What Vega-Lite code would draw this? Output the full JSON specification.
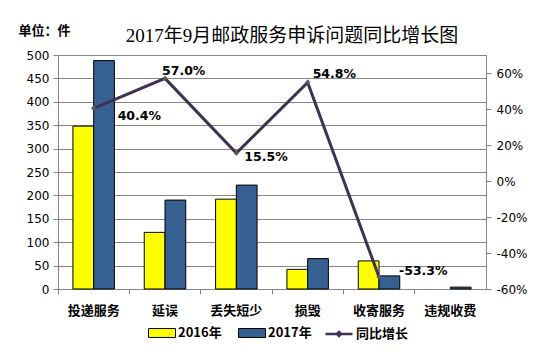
{
  "$schema": "https://vega.github.io/schema/vega-lite/v6.json",
  "autosize": {"type": "none"},
  "padding": {"left": 58, "top": 55, "right": 73, "bottom": 63},
  "width": 428,
  "height": 234,
  "background": "white",
  "title": {
    "text": "2017年9月邮政服务申诉问题同比增长图",
    "font": "Liberation Serif, Noto Sans CJK SC",
    "fontSize": 19,
    "fontWeight": "normal",
    "color": "black",
    "anchor": "middle",
    "frame": "group",
    "dx": 20,
    "offset": -22
  },
  "datasets": {
    "bars": [
      {"category": "投递服务", "year": "2016年", "value": 348},
      {"category": "投递服务", "year": "2017年", "value": 488},
      {"category": "延误", "year": "2016年", "value": 121},
      {"category": "延误", "year": "2017年", "value": 190},
      {"category": "丢失短少", "year": "2016年", "value": 192},
      {"category": "丢失短少", "year": "2017年", "value": 222},
      {"category": "损毁", "year": "2016年", "value": 42},
      {"category": "损毁", "year": "2017年", "value": 65},
      {"category": "收寄服务", "year": "2016年", "value": 60},
      {"category": "收寄服务", "year": "2017年", "value": 28},
      {"category": "违规收费", "year": "2017年", "value": 4}
    ],
    "growth": [
      {"category": "投递服务", "growth": 0.404},
      {"category": "延误", "growth": 0.570},
      {"category": "丢失短少", "growth": 0.155},
      {"category": "损毁", "growth": 0.548},
      {"category": "收寄服务", "growth": -0.533}
    ]
  },
  "config": {
    "locale": {"number": {"decimal": ".", "thousands": ",", "grouping": [3], "currency": ["$", ""], "minus": "-"}},
    "view": {"stroke": "#868686", "strokeWidth": 1},
    "axis": {
      "domainColor": "#868686",
      "tickColor": "#868686",
      "gridColor": "#868686",
      "labelColor": "black",
      "labelFont": "DejaVu Sans",
      "labelFontSize": 12,
      "tickSize": 5
    },
    "legend": {
      "labelFont": "Noto Sans CJK SC",
      "labelFontWeight": "bold",
      "labelFontSize": 13,
      "labelColor": "black",
      "labelOffset": 2,
      "columnPadding": 14,
      "symbolSize": 729
    }
  },
  "layer": [
    {
      "data": {"name": "bars"},
      "mark": {"type": "bar", "stroke": "black", "strokeWidth": 1},
      "encoding": {
        "x": {
          "field": "category",
          "type": "nominal",
          "sort": ["投递服务", "延误", "丢失短少", "损毁", "收寄服务", "违规收费"],
          "scale": {"paddingInner": 0, "paddingOuter": 0},
          "axis": {
            "title": null,
            "labelAngle": 0,
            "bandPosition": 0,
            "labelFont": "Noto Sans CJK SC",
            "labelFontWeight": "bold",
            "labelFontSize": 13,
            "labelPadding": 10,
            "domainColor": "#868686"
          }
        },
        "xOffset": {
          "field": "year",
          "type": "nominal",
          "sort": ["2016年", "2017年"],
          "scale": {"paddingOuter": 0.72, "paddingInner": 0}
        },
        "y": {
          "field": "value",
          "type": "quantitative",
          "stack": null,
          "scale": {"domain": [0, 500], "nice": false},
          "axis": {
            "values": [0, 50, 100, 150, 200, 250, 300, 350, 400, 450, 500],
            "grid": true,
            "title": "单位：件",
            "titleAngle": 0,
            "titleAlign": "left",
            "titleBaseline": "middle",
            "titleX": -40,
            "titleY": -25,
            "titleFont": "Noto Sans CJK SC",
            "titleFontSize": 13,
            "titleFontWeight": "bold",
            "titleColor": "black",
            "labelPadding": 4
          }
        },
        "fill": {
          "field": "year",
          "type": "nominal",
          "scale": {
            "domain": ["2016年", "2017年"],
            "range": ["#FFFF00", "#376092"]
          },
          "legend": {
            "title": null,
            "orient": "none",
            "direction": "horizontal",
            "legendX": 90,
            "legendY": 264,
            "symbolType": "M-1,-0.33H1V0.33H-1Z",
            "symbolStrokeColor": "black",
            "symbolStrokeWidth": 1,
            "symbolOpacity": 1
          }
        }
      }
    },
    {
      "data": {"name": "growth"},
      "layer": [
        {
          "mark": {"type": "line", "strokeWidth": 3},
          "encoding": {
            "stroke": {
              "datum": "同比增长",
              "scale": {"range": ["#3F3151"]},
              "legend": {
                "title": null,
                "orient": "none",
                "direction": "horizontal",
                "legendX": 266,
                "legendY": 264,
                "symbolType": "M-1,0H1M-0.15,0L0,-0.15L0.15,0L0,0.15Z",
                "symbolStrokeWidth": 2.5,
                "symbolFillColor": "#6A6A6A"
              }
            }
          }
        },
        {
          "mark": {"type": "point", "shape": "diamond", "filled": true, "size": 30, "color": "#5A5A5A", "opacity": 1}
        },
        {
          "transform": [{"filter": {"field": "category", "oneOf": ["投递服务"]}}],
          "mark": {"type": "text", "align": "left", "baseline": "middle", "dx": 24, "dy": 8, "font": "DejaVu Sans", "fontWeight": "bold", "fontSize": 12.5, "color": "black"},
          "encoding": {"text": {"field": "growth", "type": "quantitative", "format": ".1%"}}
        },
        {
          "transform": [{"filter": {"field": "category", "oneOf": ["丢失短少"]}}],
          "mark": {"type": "text", "align": "left", "baseline": "middle", "dx": 8, "dy": 4, "font": "DejaVu Sans", "fontWeight": "bold", "fontSize": 12.5, "color": "black"},
          "encoding": {"text": {"field": "growth", "type": "quantitative", "format": ".1%"}}
        },
        {
          "transform": [{"filter": {"field": "category", "oneOf": ["延误"]}}],
          "mark": {"type": "text", "align": "left", "baseline": "middle", "dx": -3, "dy": -7, "font": "DejaVu Sans", "fontWeight": "bold", "fontSize": 12.5, "color": "black"},
          "encoding": {"text": {"field": "growth", "type": "quantitative", "format": ".1%"}}
        },
        {
          "transform": [{"filter": {"field": "category", "oneOf": ["损毁"]}}],
          "mark": {"type": "text", "align": "left", "baseline": "middle", "dx": 5, "dy": -8, "font": "DejaVu Sans", "fontWeight": "bold", "fontSize": 12.5, "color": "black"},
          "encoding": {"text": {"field": "growth", "type": "quantitative", "format": ".1%"}}
        },
        {
          "transform": [{"filter": {"field": "category", "oneOf": ["收寄服务"]}}],
          "mark": {"type": "text", "align": "left", "baseline": "middle", "dx": 20, "dy": -6, "font": "DejaVu Sans", "fontWeight": "bold", "fontSize": 12.5, "color": "black"},
          "encoding": {"text": {"field": "growth", "type": "quantitative", "format": ".1%"}}
        }
      ],
      "encoding": {
        "x": {
          "field": "category",
          "type": "nominal",
          "sort": ["投递服务", "延误", "丢失短少", "损毁", "收寄服务", "违规收费"]
        },
        "y": {
          "field": "growth",
          "type": "quantitative",
          "scale": {"domain": [-0.6, 0.7], "nice": false},
          "axis": {
            "orient": "right",
            "title": null,
            "grid": false,
            "format": ".0%",
            "values": [-0.6, -0.4, -0.2, 0, 0.2, 0.4, 0.6],
            "labelPadding": 5
          }
        }
      }
    }
  ],
  "resolve": {"scale": {"y": "independent"}}
}
